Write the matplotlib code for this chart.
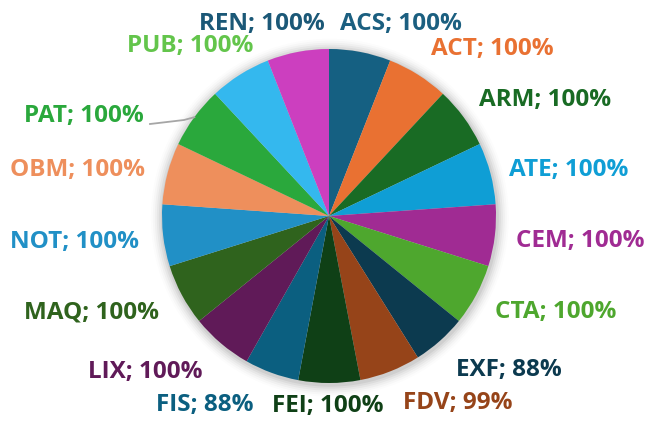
import matplotlib
matplotlib.use("Agg")
import matplotlib.pyplot as plt
import numpy as np

categories = ["ACS", "ACT", "ARM", "ATE", "CEM", "CTA", "EXF", "FDV", "FEI",
              "FIS", "LIX", "MAQ", "NOT", "OBM", "PAT", "PUB", "REN"]
values = [100, 100, 100, 100, 100, 100, 88, 99, 100,
          88, 100, 100, 100, 100, 100, 100, 100]

slice_colors = ["#156082", "#e97132", "#196b24", "#0f9ed5", "#a02b93", "#4ea72e",
                "#0c3a4f", "#964419", "#0f4016", "#0b5f80", "#601a58", "#2f631d",
                "#2190c6", "#ee8f5c", "#2aa83c", "#34b8ee", "#cc3fbf"]
label_colors = list(slice_colors)
label_colors[0] = "#1b5f80"
label_colors[15] = "#63c54b"
label_colors[16] = "#1b5877"

# label centres in pixel coordinates (layout only)
label_px = [(401, 24), (492, 49), (545, 100), (569, 170), (580, 241), (556, 312),
            (509, 370), (458, 403), (328, 406), (205, 405), (145, 372), (92, 312),
            (75, 242), (78, 170), (84, 116), (190, 46), (262, 24)]

W, H = 646, 421
cx, cy, R = 329, 216, 167

fig = plt.figure(figsize=(W / 100, H / 100), dpi=100)
ax = fig.add_axes([0, 0, 1, 1])

# soft shadow
for i, a in enumerate(np.linspace(0.05, 0.01, 6)):
    ax.add_patch(plt.Circle((0.005, -0.01), 1.0 + 0.012 * (i + 1), color="black",
                            alpha=a, lw=0, zorder=0))

ax.pie(values, colors=slice_colors, startangle=90, counterclock=False, radius=1.0,
       wedgeprops=dict(linewidth=0), center=(0, 0), frame=True)
ax.set_xlim(-cx / R, (W - cx) / R)
ax.set_ylim(-(H - cy) / R, cy / R)
ax.set_aspect("auto")
ax.axis("off")

def px2d(x, y):
    return (x - cx) / R, (cy - y) / R

for cat, v, col, (lx, ly) in zip(categories, values, label_colors, label_px):
    dx, dy = px2d(lx, ly)
    ax.text(dx, dy, f"{cat}; {v}%", color=col, fontsize=17.5, fontweight="bold",
            family="Open Sans", ha="center", va="center", zorder=5)

# leader line for PAT
theta = np.deg2rad(90 - (sum(values[:14]) + values[14] / 2) / sum(values) * 360)
ex, ey = np.cos(theta) * 1.0, np.sin(theta) * 1.0
p1 = px2d(150, 124)
p2 = px2d(184, 120)
ax.plot([p1[0], p2[0], ex], [p1[1], p2[1], ey], color="#a6a6a6", lw=1.3, zorder=1)

fig.savefig("out.png", dpi=100)
